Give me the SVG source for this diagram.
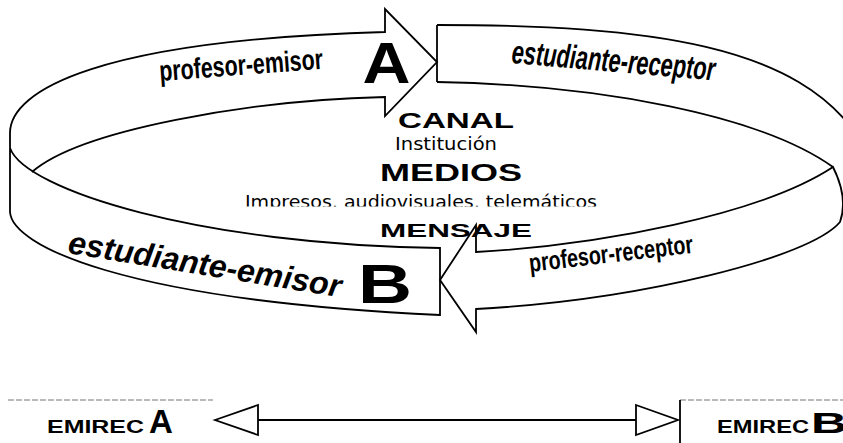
<svg xmlns="http://www.w3.org/2000/svg" width="843" height="443" viewBox="0 0 843 443">
<style>
.ln{fill:none;stroke:#000;stroke-width:1.8;stroke-linejoin:miter}
.faint{fill:none;stroke:#777;stroke-width:1;stroke-dasharray:6 2}
.lbl{font-family:"Liberation Sans",Arial,sans-serif;font-weight:bold;fill:#000}
.cn{font-family:"Liberation Sans",Arial,sans-serif;font-weight:bold;fill:#000}
.rg{font-family:"DejaVu Sans",Verdana,sans-serif;fill:#000}
.big{font-family:"Liberation Sans",Arial,sans-serif;font-weight:bold;fill:#000}
</style>
<defs>
<clipPath id="clipImp"><rect x="0" y="150" width="843" height="56.5"/></clipPath>
</defs>
<rect width="843" height="443" fill="#fff"/>

<g id="ribbon-far-left">
<path class="ln" d="M10,133 C10,90 100,40 385,32 L385,9 L437,62 L385,116 L385,97 C250,100 80,130 32,172"/>
</g>
<g id="ribbon-far-right">
<path class="ln" d="M437,25 L437,82"/>
<path class="ln" d="M437,25 C650,25 800,45 860,140"/>
<path class="ln" d="M437,82 C600,85 760,115 833,167"/>
</g>
<g id="ribbon-near-left">
<path class="ln" d="M10,133 L10,212 C12,245 120,300 440,315 L440,248 C200,245 25,190 10,148"/>
</g>
<g id="ribbon-near-right">
<path class="ln" d="M476,252 C600,245 760,215 833,167 C842,185 846,205 840,222 C810,258 640,300 476,309 L476,332 L440,280 L476,225 Z"/>
</g>

<g id="center-text">
<text class="cn" x="398" y="128" font-size="22" textLength="116" lengthAdjust="spacingAndGlyphs">CANAL</text>
<text class="rg" x="395" y="150" font-size="17" textLength="102" lengthAdjust="spacingAndGlyphs">Institución</text>
<text class="cn" x="380" y="181" font-size="23" textLength="142" lengthAdjust="spacingAndGlyphs">MEDIOS</text>
<text class="rg" x="245" y="208" font-size="17" textLength="352" lengthAdjust="spacingAndGlyphs" clip-path="url(#clipImp)">Impresos, audiovisuales, telemáticos</text>
<text class="cn" x="380" y="237" font-size="18" textLength="152" lengthAdjust="spacingAndGlyphs">MENSAJE</text>
</g>

<g id="node-profesor-emisor">
<text class="lbl" font-size="29" transform="translate(160,81) rotate(-4.3)" textLength="164" lengthAdjust="spacingAndGlyphs">profesor-emisor</text>
<text class="big" x="386.5" y="83" font-size="57" text-anchor="middle" textLength="48" lengthAdjust="spacingAndGlyphs">A</text>
</g>
<g id="node-estudiante-receptor">
<text class="lbl" font-size="33" font-style="italic" transform="translate(511,63) rotate(4.9)" textLength="204" lengthAdjust="spacingAndGlyphs">estudiante-receptor</text>
</g>
<g id="node-estudiante-emisor">
<text class="lbl" font-size="32" font-style="italic" transform="translate(67,253) rotate(9.2)" textLength="276" lengthAdjust="spacingAndGlyphs">estudiante-emisor</text>
<text class="big" x="385" y="303" font-size="56" text-anchor="middle" textLength="54" lengthAdjust="spacingAndGlyphs">B</text>
</g>
<g id="node-profesor-receptor">
<text class="lbl" font-size="26" transform="translate(530,272) rotate(-6.7)" textLength="165" lengthAdjust="spacingAndGlyphs">profesor-receptor</text>
</g>

<g id="node-emirec-a">
<path class="faint" d="M8,400 L213,400"/>
<text class="cn" x="47" y="433" font-size="18" textLength="97" lengthAdjust="spacingAndGlyphs">EMIREC</text>
<text class="big" x="149" y="433" font-size="33">A</text>
</g>
<g id="node-emirec-b">
<path class="faint" d="M680,400 L843,400"/>
<path class="ln" d="M680,400 L680,443"/>
<text class="cn" x="717" y="433" font-size="18" textLength="92" lengthAdjust="spacingAndGlyphs">EMIREC</text>
<text class="big" x="811" y="433" font-size="29" textLength="36" lengthAdjust="spacingAndGlyphs">B</text>
</g>

<g id="connectors">
<path class="ln" d="M258,420 L636,420"/>
<path class="ln" d="M215,420 L258,405 L258,435 Z" fill="#fff"/>
<path class="ln" d="M636,405 L678,420 L636,435 Z" fill="#fff"/>
</g>
</svg>
